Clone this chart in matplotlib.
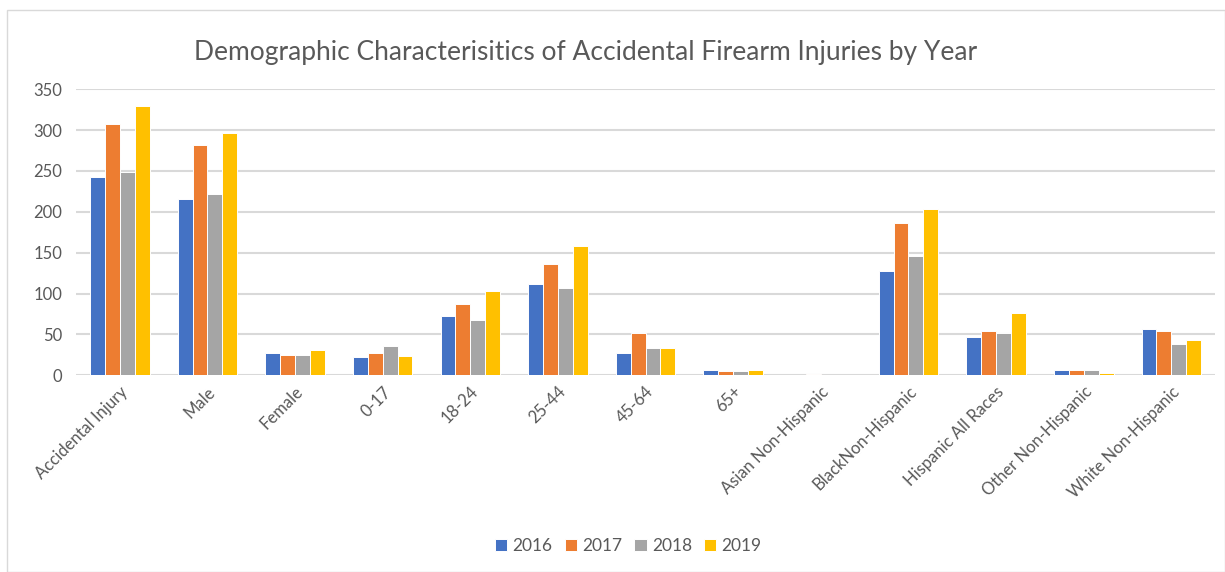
import numpy as np
import matplotlib
matplotlib.use('Agg')
import matplotlib.pyplot as plt
from matplotlib.patches import Rectangle

plt.rcParams['font.family'] = ['Lato', 'DejaVu Sans']

# Dữ liệu
categories = ['Accidental Injury', 'Male', 'Female', '0-17', '18-24', '25-44', '45-64', '65+',
              'Asian Non-Hispanic', 'BlackNon-Hispanic', 'Hispanic All Races',
              'Other Non-Hispanic', 'White Non-Hispanic']
years = ['2016', '2017', '2018', '2019']
v2016 = [242, 216, 27, 22, 73, 112, 27, 7, 0, 127, 47, 7, 57]
v2017 = [308, 282, 25, 27, 87, 136, 52, 5, 2, 186, 54, 7, 54]
v2018 = [249, 222, 25, 36, 67, 107, 33, 5, 0, 146, 52, 7, 38]
v2019 = [329, 297, 31, 24, 103, 158, 33, 7, 0, 203, 76, 3, 43]
colors = ['#4472C4', '#ED7D31', '#A5A5A5', '#FFC000']

fig = plt.figure(figsize=(12.25, 5.72), dpi=100)
ax = fig.add_axes([0.062, 0.344, 0.930, 0.500])

x = np.arange(len(categories))
w = 0.17
series = [v2016, v2017, v2018, v2019]
for i, (vals, c, yr) in enumerate(zip(series, colors, years)):
    ax.bar(x + (i - 1.5) * w, vals, w, color=c, edgecolor='white', linewidth=0.7, label=yr, zorder=3)

ax.set_xlim(-0.5, len(categories) - 0.5)
ax.set_ylim(0, 350)
ax.set_yticks(range(0, 351, 50))
ax.grid(axis='y', color='#D9D9D9', linewidth=1.5, zorder=0)
for s in ax.spines.values():
    s.set_visible(False)
ax.tick_params(length=0, colors='#595959', labelsize=12)
ax.tick_params(axis='y', pad=10)
ax.tick_params(axis='x', pad=6)
ax.set_xticks(x)
ax.set_xticklabels(categories, rotation=45, ha='right', rotation_mode='anchor')

fig.text(0.478, 0.909, 'Demographic Characterisitics of Accidental Firearm Injuries by Year',
         ha='center', va='center', fontsize=19, color='#595959')

ax.legend(loc='center', bbox_to_anchor=(0.513, 0.045), bbox_transform=fig.transFigure,
          ncol=4, frameon=False, fontsize=12.5, handlelength=0.7, handleheight=0.7,
          handletextpad=0.3, columnspacing=0.7, labelcolor='#595959')

fig.patches.append(Rectangle((0.006, 0.0), 0.994, 0.982, transform=fig.transFigure,
                             fill=False, edgecolor='#D9D9D9', linewidth=1))

fig.savefig('out.png', dpi=100)
